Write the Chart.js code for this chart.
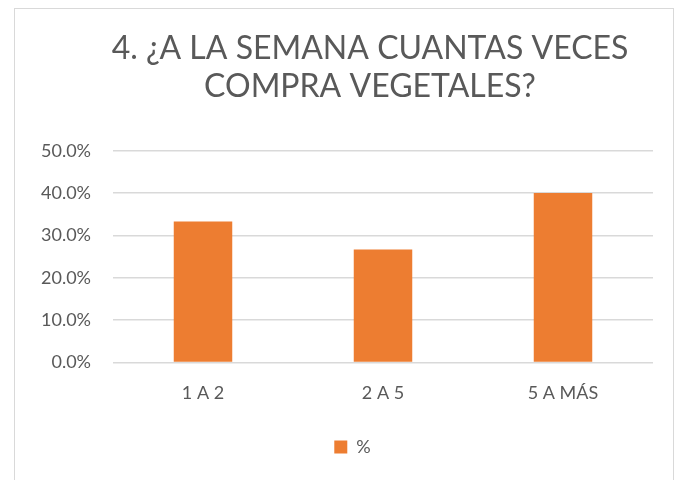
<!DOCTYPE html>
<html lang="es">
<head>
  <meta charset="UTF-8">
  <title>Compra de vegetales</title>
  <style>
    body { margin: 0; background: #fff; }
    .frame {
      position: absolute; left: 14px; top: 8px; width: 660px; height: 480px;
      border: 1px solid #d9d9d9; box-sizing: border-box;
    }
    .wrap { position: absolute; left: 0; top: 0; width: 689px; height: 480px; }
  </style>
  <script src="https://cdn.jsdelivr.net/npm/chart.js"></script>
</head>
<body>
  <div class="frame"></div>
  <div class="wrap"><canvas id="chart" width="689" height="480"></canvas></div>
  <script>
    // data
    const categories = ['1 A 2', '2 A 5', '5 A MÁS'];
    const percent = [33.3, 26.7, 40.0];
    const seriesName = '%';
    const titleLines = ['4. ¿A LA SEMANA CUANTAS VECES', 'COMPRA VEGETALES?'];

    const grey = '#595959';
    const orange = '#ED7D31';

    // centre title and legend a bit further right, like the original
    const shiftBlocks = {
      id: 'shiftBlocks',
      afterLayout(chart) {
        chart.titleBlock.left = 51;
        chart.titleBlock.right = 689;
        chart.legend.left = 52;
        chart.legend.right = 653;
      }
    };

    new Chart(document.getElementById('chart'), {
      type: 'bar',
      data: {
        labels: categories,
        datasets: [{
          label: seriesName,
          data: percent,
          backgroundColor: orange,
          barPercentage: 0.65,
          categoryPercentage: 0.5
        }]
      },
      plugins: [shiftBlocks],
      options: {
        responsive: false,
        animation: false,
        layout: { padding: { left: 0, right: 36, top: 29, bottom: 14 } },
        plugins: {
          title: {
            display: true,
            text: titleLines,
            color: grey,
            font: { family: 'Lato', size: 32, weight: 'normal' },
            padding: { top: 0, bottom: 45 },
            lineHeight: 1.32
          },
          legend: {
            position: 'bottom',
            labels: {
              color: grey,
              font: { family: 'Lato', size: 18 },
              boxWidth: 13, boxHeight: 13,
              padding: 22
            }
          },
          tooltip: { enabled: false }
        },
        scales: {
          x: {
            grid: { display: false },
            border: { display: false },
            ticks: { color: grey, font: { family: 'Lato', size: 18 }, padding: 12 }
          },
          y: {
            min: 0, max: 50,
            ticks: {
              stepSize: 10, color: grey, padding: 22,
              font: { family: 'Lato', size: 18 },
              callback: v => v.toFixed(1) + '%'
            },
            grid: { color: '#d9d9d9', lineWidth: 1.5, drawTicks: false },
            border: { display: false },
            afterFit: s => { s.width = 113; }
          }
        }
      }
    });
  </script>
</body>
</html>
